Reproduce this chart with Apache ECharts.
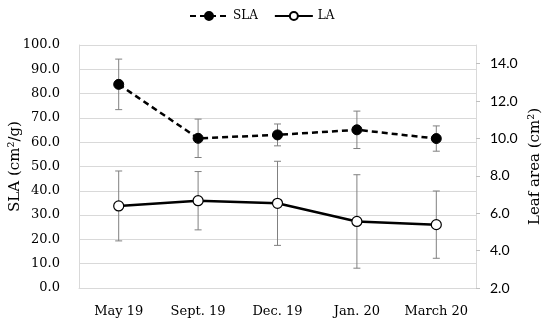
<!DOCTYPE html>
<html><head><meta charset="utf-8">
<script src="https://cdn.jsdelivr.net/npm/echarts@6/dist/echarts.min.js"></script>
<style>html,body{margin:0;padding:0;background:#fff}#c{width:550px;height:324px}</style>
</head><body><div id="c"></div>
<script>
var categories = ['May 19', 'Sept. 19', 'Dec. 19', 'Jan. 20', 'March 20'];
var slaValues = [83.8, 61.6, 63.0, 65.1, 61.5];
var slaErrors = [10.4, 7.9, 4.5, 7.7, 5.2];
var laValues = [6.39, 6.67, 6.53, 5.56, 5.39];
var laErrors = [1.87, 1.56, 2.25, 2.5, 1.8];
var leftTicks = {min: 0, max: 100, interval: 10};
var rightTicks = {min: 2, max: 15, interval: 2};

function errData(vals, errs) {
  return vals.map(function (v, i) { return [i, v - errs[i], v + errs[i]]; });
}
function errRender(params, api) {
  var i = api.value(0);
  var lo = api.coord([i, api.value(1)]);
  var hi = api.coord([i, api.value(2)]);
  var w = 3.5;
  var st = {stroke: '#808080', lineWidth: 1};
  return {type: 'group', children: [
    {type: 'line', shape: {x1: lo[0], y1: lo[1], x2: hi[0], y2: hi[1]}, style: st},
    {type: 'line', shape: {x1: lo[0] - w, y1: lo[1], x2: lo[0] + w, y2: lo[1]}, style: st},
    {type: 'line', shape: {x1: hi[0] - w, y1: hi[1], x2: hi[0] + w, y2: hi[1]}, style: st}
  ]};
}
var serif = 'DejaVu Serif';
var chart = echarts.init(document.getElementById('c'), null, {renderer: 'canvas'});
chart.setOption({
  animation: false,
  backgroundColor: '#fff',
  grid: {left: 79, right: 74, top: 45, bottom: 36, outerBoundsMode: 'none', containLabel: false},
  legend: {
    data: ['SLA', 'LA'], top: 5, left: 184, itemWidth: 38, itemHeight: 10, itemGap: 16,
    textStyle: {fontFamily: serif, fontSize: 12, color: '#000'}
  },
  xAxis: {
    type: 'category', data: categories, boundaryGap: true,
    axisLine: {lineStyle: {color: '#d9d9d9', width: 1}},
    axisTick: {show: false},
    axisLabel: {fontFamily: serif, fontSize: 13, color: '#000', margin: 17, interval: 0, hideOverlap: false}
  },
  yAxis: [{
    type: 'value', min: leftTicks.min, max: leftTicks.max, interval: leftTicks.interval,
    name: 'SLA (cm²/g)', nameLocation: 'middle', nameRotate: 90, nameGap: 56, nameMoveOverlap: false,
    nameTextStyle: {fontFamily: serif, fontSize: 15, color: '#000'},
    axisLine: {show: true, lineStyle: {color: '#d9d9d9'}},
    axisTick: {show: false},
    splitLine: {lineStyle: {color: '#d9d9d9', width: 1}},
    axisLabel: {fontFamily: serif, fontSize: 13, color: '#000', margin: 19,
      formatter: function (v) { return v.toFixed(1); }}
  }, {
    type: 'value', position: 'right', min: rightTicks.min, max: rightTicks.max, interval: rightTicks.interval,
    name: 'Leaf area (cm²)', nameLocation: 'middle', nameRotate: 90, nameGap: 52, nameMoveOverlap: false,
    nameTextStyle: {fontFamily: serif, fontSize: 15, color: '#000'},
    axisLine: {show: true, lineStyle: {color: '#d9d9d9'}},
    axisTick: {show: true, length: 4, lineStyle: {color: '#bfbfbf'}},
    splitLine: {show: false},
    axisLabel: {fontFamily: 'Lato', fontSize: 14, color: '#000', margin: 14, showMaxLabel: false,
      formatter: function (v) { return v.toFixed(1); }}
  }],
  series: [{
    type: 'custom', name: 'SLA err', yAxisIndex: 0, renderItem: errRender,
    data: errData(slaValues, slaErrors), z: 1, silent: true
  }, {
    type: 'custom', name: 'LA err', yAxisIndex: 1, renderItem: errRender,
    data: errData(laValues, laErrors), z: 1, silent: true
  }, {
    name: 'SLA', type: 'line', yAxisIndex: 0, data: slaValues, z: 3,
    symbol: 'circle', symbolSize: 10,
    lineStyle: {color: '#000', width: 2.5, type: [6, 4]},
    itemStyle: {color: '#000', borderColor: '#000', borderWidth: 1}
  }, {
    name: 'LA', type: 'line', yAxisIndex: 1, data: laValues, z: 3,
    symbol: 'circle', symbolSize: 10,
    lineStyle: {color: '#000', width: 2.5},
    itemStyle: {color: '#fff', borderColor: '#000', borderWidth: 1.2}
  }]
});
</script></body></html>
